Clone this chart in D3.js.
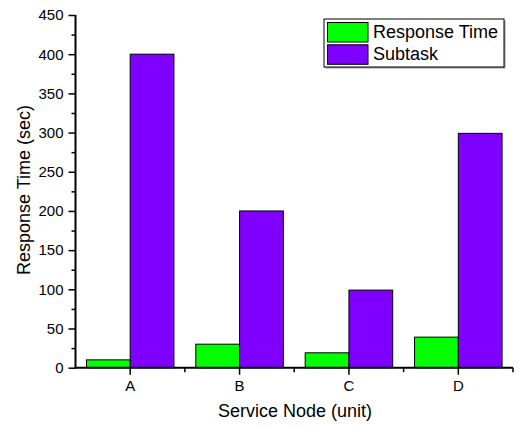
<!DOCTYPE html>
<html><head><meta charset="utf-8">
<script src="https://cdn.jsdelivr.net/npm/d3@7"></script>
<style>body{margin:0;background:#fff}text{font-family:Arial,"Liberation Sans",sans-serif;fill:#000}</style>
</head><body>
<svg id="c" width="518" height="426"></svg>
<script>
const categories = ["A","B","C","D"];
const seriesNames = ["Response Time","Subtask"];
const responseTime = [10, 30, 19, 39];
const subtask = [400, 200, 99, 299];
const seriesColors = ["#00ff00","#8000ff"];
const yTicks = [0,50,100,150,200,250,300,350,400,450];
const yMinorTicks = [25,75,125,175,225,275,325,375,425];

const svg = d3.select("#c");
const x0 = 75.5, x1 = 513, yB = 367.7, yT = 15;
const x = d3.scaleBand().domain(categories).range([x0, x1]).paddingInner(0.2).paddingOuter(0.1);
const xs = d3.scaleBand().domain(seriesNames).range([0, x.bandwidth()]);
const y = d3.scaleLinear().domain([0,450]).range([yB, yT]);

const series = [responseTime, subtask];
series.forEach((vals, si) => {
  svg.append("g").selectAll("rect").data(categories).join("rect")
    .attr("x", (c) => x(c) + xs(seriesNames[si]))
    .attr("y", (c, i) => y(vals[i]))
    .attr("width", xs.bandwidth())
    .attr("height", (c, i) => y(0) - y(vals[i]))
    .attr("fill", seriesColors[si])
    .attr("stroke", "#000").attr("stroke-width", 1);
});

// Y axis
const yAx = svg.append("g").attr("transform", `translate(${x0},0)`)
  .call(d3.axisLeft(y).tickValues(yTicks).tickSize(7).tickPadding(5).tickFormat(d3.format("d")));
yAx.select(".domain").attr("stroke-width", 2).attr("d", `M0,${yT}V${yB+1}`);
yAx.selectAll(".tick line").attr("stroke-width", 1.5);
yAx.selectAll("text").style("font-size", "15px");
svg.append("g").attr("transform", `translate(${x0},0)`)
  .call(d3.axisLeft(y).tickValues(yMinorTicks).tickSize(4).tickFormat(""))
  .call(g => { g.select(".domain").remove(); g.selectAll("line").attr("stroke-width", 1.5); });

// X axis
const xAx = svg.append("g").attr("transform", `translate(0,${yB})`)
  .call(d3.axisBottom(x).tickSize(7).tickPadding(6));
xAx.select(".domain").attr("stroke-width", 2).attr("d", `M${x0-1},0H${x1}`);
xAx.selectAll(".tick line").attr("stroke-width", 1.5);
xAx.selectAll("text").style("font-size", "15px");
const bounds = categories.slice(1).map(c => x(c) - x.step()*x.paddingInner()/2 - x.bandwidth()*0 ).map((v,i)=> x(categories[i]) + x.bandwidth()/2 + x.step()/2);
bounds.push(x1);
svg.append("g").selectAll("line").data(bounds).join("line")
  .attr("x1", d => d).attr("x2", d => d).attr("y1", yB).attr("y2", yB + 4.5)
  .attr("stroke", "#000").attr("stroke-width", 1.5);

// Titles
svg.append("text").attr("x", 295).attr("y", 417).attr("text-anchor", "middle")
  .style("font-size", "18px").text("Service Node (unit)");
svg.append("text").attr("transform", "translate(30,190) rotate(-90)").attr("text-anchor", "middle")
  .style("font-size", "18px").text("Response Time (sec)");

// Legend
const lg = svg.append("g");
lg.append("rect").attr("x", 325.5).attr("y", 20.5).attr("width", 180).attr("height", 48).attr("fill", "#999");
lg.append("rect").attr("x", 324).attr("y", 19).attr("width", 180).attr("height", 48)
  .attr("fill", "#fff").attr("stroke", "#000").attr("stroke-width", 1);
seriesNames.forEach((n, i) => {
  lg.append("rect").attr("x", 327.5).attr("y", 22.5 + i*22.3).attr("width", 40.5).attr("height", 19.5)
    .attr("fill", seriesColors[i]).attr("stroke", "#000").attr("stroke-width", 1);
  lg.append("text").attr("x", 373).attr("y", 38 + i*22.3).style("font-size", "18px").text(n);
});
</script>
</body></html>
